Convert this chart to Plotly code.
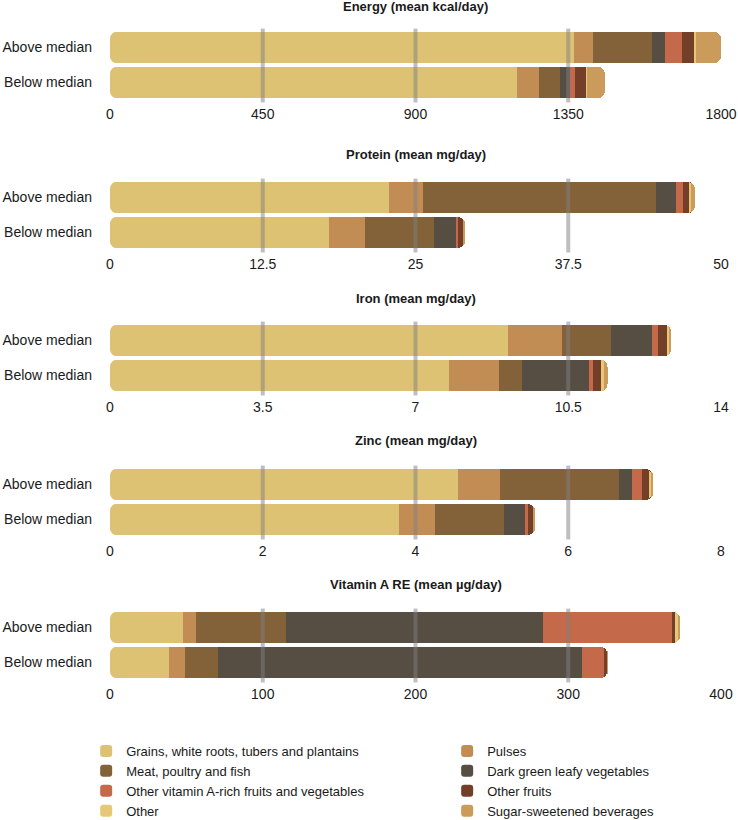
import math
import plotly.graph_objects as go

series = [
    "Grains, white roots, tubers and plantains",
    "Pulses",
    "Meat, poultry and fish",
    "Dark green leafy vegetables",
    "Other vitamin A-rich fruits and vegetables",
    "Other fruits",
    "Other",
    "Sugar-sweetened beverages",
]
colors = ["#DEC273", "#C18D54", "#836239", "#564D43", "#C4694A", "#733F28", "#E6C878", "#CB9B5B"]
groups = ["Above median", "Below median"]

titles = [
    "Energy (mean kcal/day)",
    "Protein (mean mg/day)",
    "Iron (mean mg/day)",
    "Zinc (mean mg/day)",
    "Vitamin A RE (mean µg/day)",
]

energy_above = [1366, 56, 174, 40, 48, 38, 5, 73]
energy_below = [1200, 64, 63, 29, 13, 35, 2, 52]
protein_above = [22.8, 2.8, 19.1, 1.65, 0.5, 0.5, 0.2, 0.3]
protein_below = [17.9, 2.95, 5.7, 1.8, 0.15, 0.4, 0.05, 0.07]
iron_above = [9.11, 1.25, 1.13, 0.92, 0.15, 0.2, 0.05, 0.05]
iron_below = [7.76, 1.15, 0.52, 1.55, 0.08, 0.19, 0.08, 0.07]
zinc_above = [4.56, 0.55, 1.55, 0.17, 0.14, 0.1, 0.02, 0.01]
zinc_below = [3.78, 0.47, 0.91, 0.27, 0.04, 0.07, 0.01, 0.01]
vita_above = [47.5, 8.8, 58.6, 168.6, 84.1, 2.4, 1.8, 1.4]
vita_below = [38.5, 10.4, 21.5, 238.6, 14.4, 2.1, 0.2, 0.1]

panel_data = [
    (energy_above, energy_below),
    (protein_above, protein_below),
    (iron_above, iron_below),
    (zinc_above, zinc_below),
    (vita_above, vita_below),
]

tickvals = [
    [0, 450, 900, 1350, 1800],
    [0, 12.5, 25, 37.5, 50],
    [0, 3.5, 7, 10.5, 14],
    [0, 2, 4, 6, 8],
    [0, 100, 200, 300, 400],
]
ticktexts = [
    ["0", "450", "900", "1350", "1800"],
    ["0", "12.5", "25", "37.5", "50"],
    ["0", "3.5", "7", "10.5", "14"],
    ["0", "2", "4", "6", "8"],
    ["0", "100", "200", "300", "400"],
]

# ---- layout (pixel positions) ----
W, H = 738, 820
MT, MB = 0, 110
GH = H - MT - MB


def py(px):
    """pixel row -> paper fraction"""
    return 1 - (px - MT) / GH


panel_px = [(30, 100), (180, 250), (323, 393), (467, 537), (610, 680)]
title_px = [7, 155, 298, 441, 584]
BARGAP = 0.1
RADIUS = 7

FONT = "Liberation Sans, Arial, Helvetica, sans-serif"
TXT = "#1a1a1a"

fig = go.Figure()
layout = dict(
    width=W, height=H,
    margin=dict(l=110, r=17, t=MT, b=MB, autoexpand=False),
    plot_bgcolor="white", paper_bgcolor="white",
    barmode="stack", bargap=BARGAP, barcornerradius=RADIUS,
    font=dict(family=FONT, size=14, color=TXT),
    showlegend=True,
    legend=dict(
        orientation="h", x=-0.039, xanchor="left", y=py(736), yanchor="top",
        entrywidth=316, entrywidthmode="pixels",
        font=dict(size=13, family=FONT, color=TXT),
        traceorder="normal", bgcolor="rgba(0,0,0,0)",
    ),
    annotations=[], shapes=[],
)

for p, (above, below) in enumerate(panel_data):
    idx = "" if p == 0 else str(p + 1)
    xa, ya = "x" + idx, "y" + idx
    for s in range(len(series)):
        fig.add_trace(go.Bar(
            y=groups, x=[above[s], below[s]], orientation="h",
            name=series[s], marker=dict(color=colors[s], line=dict(width=0)),
            xaxis=xa, yaxis=ya, showlegend=(p == 0),
        ))
    top, bot = panel_px[p]
    layout["xaxis" + idx] = dict(
        domain=[0, 1], anchor=ya, range=[0, tickvals[p][-1]],
        tickvals=tickvals[p], ticktext=ticktexts[p], ticks="",
        ticklabelstandoff=4,
        showgrid=False, zeroline=False, showline=False,
        tickfont=dict(size=14, family=FONT, color=TXT),
    )
    layout["yaxis" + idx] = dict(
        domain=[py(bot), py(top)], anchor=xa,
        autorange="reversed", ticks="", showgrid=False, zeroline=False, showline=False,
        ticklabelstandoff=17,
        tickfont=dict(size=14, family=FONT, color=TXT),
    )
    layout["annotations"].append(dict(
        text="<b>" + titles[p] + "</b>", xref="paper", yref="paper",
        x=0.5, y=py(title_px[p]), xanchor="center", yanchor="middle",
        showarrow=False, font=dict(size=13, family=FONT, color=TXT),
    ))
    # gridlines drawn over the bars
    for tv in tickvals[p][1:-1]:
        layout["shapes"].append(dict(
            type="line", xref=xa, yref=ya + " domain", x0=tv, x1=tv, y0=-0.035, y1=1.02,
            line=dict(color="rgba(128,128,128,0.5)", width=4), layer="above",
        ))
    # round the left end of each bar (white corner masks at the axis origin)
    half = (bot - top) / len(groups) * (1 - BARGAP) / 2
    for g in groups:
        for sgn in (1, -1):
            pts = [(0, sgn * (half + 0.6)), (RADIUS, sgn * (half + 0.6))]
            for k in range(11):
                t = math.pi / 2 * k / 10
                pts.append((RADIUS - RADIUS * math.sin(t), sgn * (half - RADIUS + RADIUS * math.cos(t))))
            pts.append((-0.6, sgn * (half - RADIUS)))
            pts.append((-0.6, sgn * (half + 0.6)))
            path = "M" + " L".join(f"{x:.2f},{y:.2f}" for x, y in pts) + " Z"
            layout["shapes"].append(dict(
                type="path", path=path, xref=xa, yref=ya,
                xsizemode="pixel", ysizemode="pixel", xanchor=0, yanchor=g,
                fillcolor="white", line=dict(width=0), layer="above",
            ))

fig.update_layout(**layout)
fig.write_html("out.html")
